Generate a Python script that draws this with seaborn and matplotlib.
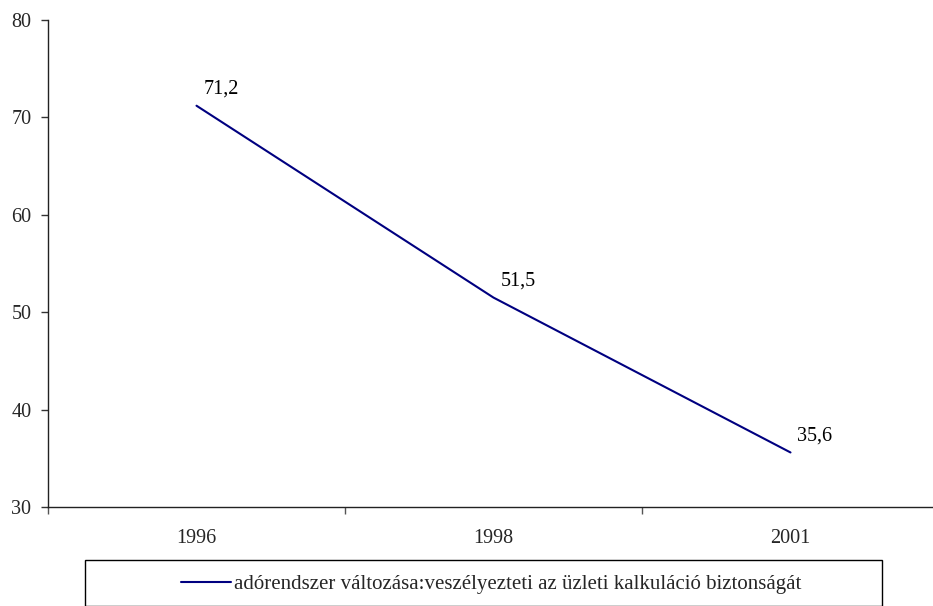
import matplotlib
matplotlib.use("Agg")
import matplotlib.pyplot as plt
import seaborn as sns
import pandas as pd
from matplotlib.patches import Rectangle
from matplotlib.ticker import FixedLocator, NullFormatter, FixedFormatter

years = ["1996", "1998", "2001"]
values = [71.2, 51.5, 35.6]
labels = ["71,2", "51,5", "35,6"]
series_name = "adórendszer változása:veszélyezteti az üzleti kalkuláció biztonságát"
yticks = [30, 40, 50, 60, 70, 80]

sns.set_style("ticks")
plt.rcParams['font.family'] = ['Liberation Serif', 'DejaVu Serif']

df = pd.DataFrame({"year": years, "value": values})

fig = plt.figure(figsize=(9.33, 6.06), dpi=100)
ax = fig.add_axes([48/933, 1-507/606, 891/933, 487/606])

sns.lineplot(data=df, x="year", y="value", ax=ax, color="#000080",
             linewidth=1.5, label=series_name, legend=False)

for i, (v, t) in enumerate(zip(values, labels)):
    ax.annotate(t, (i, v), xytext=(5, 5), textcoords="offset points",
                ha="left", va="bottom", fontsize=14.5, color="black")

ax.set_xlim(-0.5, 2.5)
ax.set_ylim(30, 80)
ax.set_yticks(yticks)
ax.set_yticklabels([str(y) for y in yticks], fontsize=14.5)
ax.xaxis.set_major_locator(FixedLocator([-0.5, 0.5, 1.5, 2.5]))
ax.xaxis.set_major_formatter(NullFormatter())
ax.xaxis.set_minor_locator(FixedLocator([0, 1, 2]))
ax.xaxis.set_minor_formatter(FixedFormatter(years))
ax.tick_params(axis="x", which="major", length=5, width=1, color="#555555")
ax.tick_params(axis="x", which="minor", length=0, pad=16, labelsize=14.5)
ax.tick_params(axis="y", length=5, width=1, color="#333333", pad=7)
ax.set_xlabel("")
ax.set_ylabel("")
sns.despine(ax=ax)
for s in ["left", "bottom"]:
    ax.spines[s].set_color("#222222")
    ax.spines[s].set_linewidth(1.0)

# legend box
rect = Rectangle((85/933, 0), (882-85)/933, (606-560)/606, transform=fig.transFigure,
                 facecolor="white", edgecolor="black", linewidth=1.0, clip_on=False)
fig.patches.append(rect)
h, l = ax.get_legend_handles_labels()
leg = fig.legend(h, l, loc="center", bbox_to_anchor=(491/933, 1-584/606),
                 frameon=False, fontsize=15, handlelength=2.4, handletextpad=0.15)

fig.savefig("out.png", dpi=100)
